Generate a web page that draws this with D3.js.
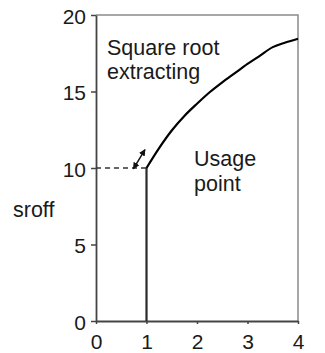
<!DOCTYPE html>
<html>
<head>
<meta charset="utf-8">
<script src="https://cdn.jsdelivr.net/npm/d3@7"></script>
<style>
  html, body { margin: 0; padding: 0; background: #fff; }
  svg { display: block; font-family: "Liberation Sans", Arial, sans-serif; }
</style>
</head>
<body>
<svg id="chart" width="325" height="353"></svg>
<script>
// Usage point at x = 1, then the square-root extracting curve
const usageX = [1, 1];
const usageY = [0, 10];
const curveX = [1, 1.25, 1.5, 1.75, 2, 2.25, 2.5, 2.75, 3, 3.25, 3.5, 3.75, 4];
const curveY = [10, 11.3, 12.45, 13.4, 14.2, 14.95, 15.6, 16.2, 16.8, 17.35, 17.9, 18.2, 18.45];
const xTicks = [0, 1, 2, 3, 4];
const yTicks = [0, 5, 10, 15, 20];
const labels = ["Square root", "extracting", "Usage", "point", "sroff"];

const width = 325, height = 353;
const margin = { top: 15, right: 27, bottom: 32, left: 96 };
const svg = d3.select("#chart");

const x = d3.scaleLinear().domain([0, 4]).range([margin.left, width - margin.right]);
const y = d3.scaleLinear().domain([0, 20]).range([height - margin.bottom, margin.top]);

const ink = "#1a1a1a";

// plot frame (top and right edges)
svg.append("path")
  .attr("d", `M${x(0)},${y(20)}H${x(4)}V${y(0)}`)
  .attr("fill", "none").attr("stroke", "#8a8a8a").attr("stroke-width", 1.5);

// axes
const yAxis = svg.append("g")
  .attr("transform", `translate(${x(0)},0)`)
  .call(d3.axisLeft(y).tickValues(yTicks).tickFormat(d3.format("d"))
    .tickSize(5).tickPadding(5).tickSizeOuter(0));
const xAxis = svg.append("g")
  .attr("transform", `translate(0,${y(0)})`)
  .call(d3.axisBottom(x).tickValues(xTicks).tickFormat(d3.format("d"))
    .tickSize(3).tickPadding(10).tickSizeOuter(0));

[yAxis, xAxis].forEach(g => {
  g.select(".domain").attr("stroke", "#444").attr("stroke-width", 1.8);
  g.selectAll(".tick line").attr("stroke", "#444").attr("stroke-width", 1.5);
  g.selectAll(".tick text").attr("fill", ink).style("font-size", "21px")
    .style("font-family", "'Liberation Sans', Arial, sans-serif");
});
yAxis.selectAll(".tick text").attr("dy", "0.4em");

// dashed guide from the axis to the usage point
svg.append("line")
  .attr("x1", x(0)).attr("x2", x(usageX[1]))
  .attr("y1", y(usageY[1])).attr("y2", y(usageY[1]))
  .attr("stroke", "#333").attr("stroke-width", 1.5)
  .attr("stroke-dasharray", "5,4");

// vertical segment at the usage point
svg.append("path")
  .datum(usageX.map((d, i) => [d, usageY[i]]))
  .attr("d", d3.line().x(d => x(d[0])).y(d => y(d[1])))
  .attr("fill", "none").attr("stroke", "#2a2a2a").attr("stroke-width", 2.2);

// square-root curve
svg.append("path")
  .datum(curveX.map((d, i) => [d, curveY[i]]))
  .attr("d", d3.line().x(d => x(d[0])).y(d => y(d[1])).curve(d3.curveCatmullRom))
  .attr("fill", "none").attr("stroke", "#000").attr("stroke-width", 2.2);

// double-headed arrow next to the usage point
const defs = svg.append("defs");
defs.append("marker")
  .attr("id", "head").attr("viewBox", "0 0 10 10")
  .attr("refX", 9).attr("refY", 5)
  .attr("markerWidth", 4.5).attr("markerHeight", 4.5)
  .attr("markerUnits", "strokeWidth")
  .attr("orient", "auto-start-reverse")
  .append("path").attr("d", "M0,0L10,5L0,10z").attr("fill", "#111");
svg.append("line")
  .attr("x1", x(0.74)).attr("y1", y(9.95))
  .attr("x2", x(0.97)).attr("y2", y(11.2))
  .attr("stroke", "#111").attr("stroke-width", 1.5)
  .attr("marker-start", "url(#head)").attr("marker-end", "url(#head)");

// annotations
const text = (s, tx, ty) => svg.append("text")
  .attr("x", tx).attr("y", ty).attr("fill", ink)
  .style("font-size", "21.5px").text(s);
text(labels[0], 107, 55);
text(labels[1], 107, 79);
text(labels[2], 194, 166);
text(labels[3], 194, 191);
text(labels[4], 13, 217);
</script>
</body>
</html>
